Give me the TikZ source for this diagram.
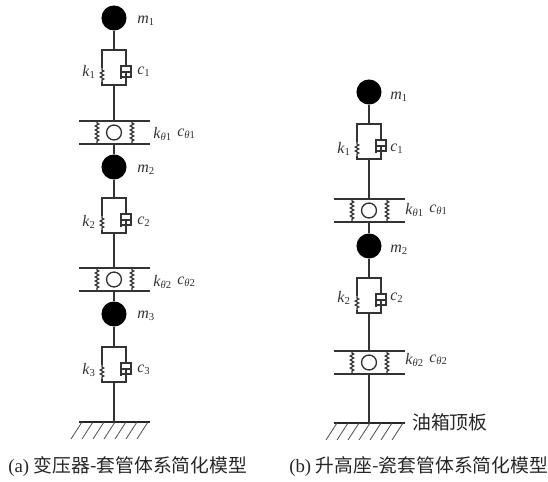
\documentclass[tikz,border=0pt]{standalone}
\usepackage{fontspec}
\setmainfont{Liberation Serif}
\newfontfamily\cjk{Noto Sans CJK SC}
\usetikzlibrary{decorations.pathmorphing}

\newcommand{\symk}[1]{\textit{k}\textsubscript{#1}}
\newcommand{\symc}[1]{\textit{c}\textsubscript{#1}}
\newcommand{\symm}[1]{\textit{m}\textsubscript{#1}}

\tikzset{
  rod/.style={line width=1.1pt,draw=black!80},
  spring/.style={rod,line width=.9pt,decorate,decoration={zigzag,amplitude=1.3pt,segment length=3pt,pre length=1.5pt,post length=1.5pt}},
  mass/.style={circle,fill=black,minimum size=18.8pt,inner sep=0pt},
  ring/.style={circle,draw=black!80,line width=1pt,fill=white,minimum size=11.2pt,inner sep=0pt},
  sym/.style={font=\fontsize{12}{14}\selectfont,text=black!80,inner sep=0pt,anchor=west},
  caption/.style={font=\fontsize{14.1}{16}\selectfont,text=black!85,inner sep=0pt,anchor=west},
  kelvin/.pic={
    \coordinate (-top) at (0,0);
    \coordinate (-bot) at (0,35);
    \draw[rod] (-12,18) -- (-12,0) -- (12,0) -- (12,17);
    \draw[spring] (-12,18) -- (-12,32);
    \draw[rod] (-12,32) -- (-12,35) -- (12,35) -- (12,22);
    \draw[rod] (7,16) rectangle (17,27);
    \draw[line width=1.6pt,draw=black!80] (7,16) -- (7,29);
    \draw[line width=1.4pt,draw=black!80] (8,22) -- (16,22);
  },
  hinge/.pic={
    \coordinate (-top) at (0,0);
    \coordinate (-bot) at (0,23);
    \draw[rod] (-35,0) -- (36,0);
    \draw[rod] (-35,23) -- (36,23);
    \draw[spring] (-17,0) -- (-17,23);
    \draw[spring] (18,0) -- (18,23);
    \node[ring] at (0,11.5) {};
  },
  ground/.pic={
    \coordinate (-top) at (0,0);
    \draw[line width=1.7pt,draw=black!85] (-35,0) -- (36,0);
    \foreach \hx in {-32,-21,-10,1,12,23,34}
      \draw[line width=.6pt,draw=black!70] (\hx,0) -- (\hx-11,17);
  }
}

\begin{document}
\begin{tikzpicture}[x=0.75pt,y=-0.75pt]
\useasboundingbox (0,0) rectangle (548,481);

% left column
\node[mass] (ma1) at (114,18) {};
\pic (ka1) at (114,50) {kelvin};
\pic (ha1) at (114,121) {hinge};
\node[mass] (ma2) at (114,167) {};
\pic (ka2) at (114,198) {kelvin};
\pic (ha2) at (114,268) {hinge};
\node[mass] (ma3) at (114,314) {};
\pic (ka3) at (114,347) {kelvin};
\pic (ga) at (114,422) {ground};

% right column
\node[mass] (mb1) at (369,92) {};
\pic (kb1) at (369,124) {kelvin};
\pic (hb1) at (369,199) {hinge};
\node[mass] (mb2) at (369,246) {};
\pic (kb2) at (369,278) {kelvin};
\pic (hb2) at (369,351) {hinge};
\pic (gb) at (369,423) {ground};

% rods
\draw[rod] (ma1) -- (ka1-top);
\draw[rod] (ka1-bot) -- (ha1-top);
\draw[rod] (ha1-bot) -- (ma2);
\draw[rod] (ma2) -- (ka2-top);
\draw[rod] (ka2-bot) -- (ha2-top);
\draw[rod] (ha2-bot) -- (ma3);
\draw[rod] (ma3) -- (ka3-top);
\draw[rod] (ka3-bot) -- (ga-top);

\draw[rod] (mb1) -- (kb1-top);
\draw[rod] (kb1-bot) -- (hb1-top);
\draw[rod] (hb1-bot) -- (mb2);
\draw[rod] (mb2) -- (kb2-top);
\draw[rod] (kb2-bot) -- (hb2-top);
\draw[rod] (hb2-bot) -- (gb-top);

% labels
\node[sym] (lma1) at (137,21) {\symm{1}};
\node[sym] (lka1) at (82,72) {\symk{1}};
\node[sym] (lca1) at (137,72) {\symc{1}};
\node[sym] (lkt1) at (153,134) {\symk{\textit{θ}1}};
\node[sym] (lct1) at (177,134) {\symc{\textit{θ}1}};
\node[sym] (lma2) at (137,170) {\symm{2}};
\node[sym] (lka2) at (82,222) {\symk{2}};
\node[sym] (lca2) at (137,222) {\symc{2}};
\node[sym] (lkt2) at (153,282) {\symk{\textit{θ}2}};
\node[sym] (lct2) at (177,282) {\symc{\textit{θ}2}};
\node[sym] (lma3) at (137,316) {\symm{3}};
\node[sym] (lka3) at (82,370) {\symk{3}};
\node[sym] (lca3) at (137,370) {\symc{3}};

\node[sym] (lmb1) at (390,97) {\symm{1}};
\node[sym] (lkb1) at (337,149) {\symk{1}};
\node[sym] (lcb1) at (390,149) {\symc{1}};
\node[sym] (lks1) at (405,210) {\symk{\textit{θ}1}};
\node[sym] (lcs1) at (429,210) {\symc{\textit{θ}1}};
\node[sym] (lmb2) at (390,250) {\symm{2}};
\node[sym] (lkb2) at (337,298) {\symk{2}};
\node[sym] (lcb2) at (390,298) {\symc{2}};
\node[sym] (lks2) at (405,360) {\symk{\textit{θ}2}};
\node[sym] (lcs2) at (429,360) {\symc{\textit{θ}2}};

\node[caption] (plate) at (412,422) {\cjk 油箱顶板};
\node[caption] (capa) at (8,467) {(a) {\cjk 变压器-套管体系简化模型}};
\node[caption] (capb) at (289,467) {(b) {\cjk 升高座-瓷套管体系简化模型}};

\end{tikzpicture}
\end{document}
